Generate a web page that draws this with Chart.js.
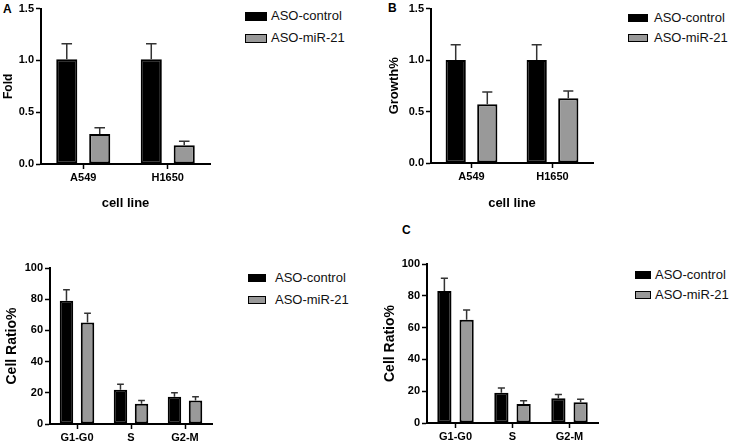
<!DOCTYPE html>
<html>
<head>
<meta charset="utf-8">
<script src="https://cdn.jsdelivr.net/npm/chart.js@4"></script>
<style>
  body { margin: 0; background: #fff; width: 738px; height: 445px; position: relative; overflow: hidden;
         font-family: Arial, "Liberation Sans", Helvetica, sans-serif; }
  canvas { position: absolute; }
  .tag { position: absolute; font-weight: bold; font-size: 12px; color: #000; }
  .key { position: absolute; font-size: 13px; color: #111; line-height: 14px; white-space: nowrap; }
  .key span { position: absolute; top: 3px; border: 1.5px solid #000; box-sizing: border-box; }
</style>
</head>
<body>
<div class="tag" style="left:3px;top:2px">A</div>
<div class="tag" style="left:388px;top:1px">B</div>
<div class="tag" style="left:402px;top:223px">C</div>

<canvas id="chartA" width="215" height="215" style="left:0;top:0"></canvas>
<canvas id="chartB" width="230" height="215" style="left:370px;top:0"></canvas>
<canvas id="chartC1" width="220" height="220" style="left:0;top:225px"></canvas>
<canvas id="chartC2" width="235" height="220" style="left:370px;top:225px"></canvas>

<!-- легенды -->
<div class="key" style="left:245px;top:9px"><span style="left:0;width:22px;height:9px;background:#000"></span><b style="font-weight:normal;margin-left:26px">ASO-control</b></div>
<div class="key" style="left:245px;top:31px"><span style="left:0;width:22px;height:9px;background:#999"></span><b style="font-weight:normal;margin-left:26px">ASO-miR-21</b></div>
<div class="key" style="left:628px;top:11px"><span style="left:0;width:20px;height:8px;background:#000"></span><b style="font-weight:normal;margin-left:26px">ASO-control</b></div>
<div class="key" style="left:628px;top:31px"><span style="left:0;width:20px;height:8px;background:#999"></span><b style="font-weight:normal;margin-left:26px">ASO-miR-21</b></div>
<div class="key" style="left:248px;top:271px"><span style="left:0;width:18px;height:8px;background:#000"></span><b style="font-weight:normal;margin-left:27px">ASO-control</b></div>
<div class="key" style="left:248px;top:293px"><span style="left:0;width:18px;height:8px;background:#999"></span><b style="font-weight:normal;margin-left:27px">ASO-miR-21</b></div>
<div class="key" style="left:635px;top:268px"><span style="left:0;width:16px;height:8px;background:#000"></span><b style="font-weight:normal;margin-left:20px">ASO-control</b></div>
<div class="key" style="left:635px;top:288px"><span style="left:0;width:16px;height:8px;background:#999"></span><b style="font-weight:normal;margin-left:20px">ASO-miR-21</b></div>

<script>
// Данные
var cellLines = ['A549', 'H1650'];
var phases = ['G1-G0', 'S', 'G2-M'];

var foldControl = [1.01, 1.01];
var foldControlErr = [0.15, 0.15];
var foldMiR = [0.29, 0.18];
var foldMiRErr = [0.06, 0.04];

var growthControl = [1.00, 1.00];
var growthControlErr = [0.15, 0.15];
var growthMiR = [0.57, 0.63];
var growthMiRErr = [0.12, 0.07];

var ratioControl1 = [79, 22, 17.5];
var ratioControlErr1 = [7, 3.5, 2.5];
var ratioMiR1 = [65, 13, 15];
var ratioMiRErr1 = [6, 2, 2.5];

var ratioControl2 = [83, 19, 15.5];
var ratioControlErr2 = [8, 3, 2.5];
var ratioMiR2 = [65, 12, 13];
var ratioMiRErr2 = [6, 2, 2];

var FONT = 'Arial, "Liberation Sans", Helvetica, sans-serif';

// Планки погрешностей (только вверх)
var errorBars = {
    id: 'errorBars',
    afterDatasetsDraw: function (chart) {
        var ctx = chart.ctx;
        var y = chart.scales.y;
        chart.data.datasets.forEach(function (ds, i) {
            chart.getDatasetMeta(i).data.forEach(function (bar, j) {
                var top = y.getPixelForValue(ds.data[j] + ds.errors[j]);
                var half = bar.width / 4;
                ctx.save();
                ctx.strokeStyle = '#333';
                ctx.lineWidth = 1.5;
                ctx.beginPath();
                ctx.moveTo(bar.x, bar.y);
                ctx.lineTo(bar.x, top);
                ctx.moveTo(bar.x - half, top);
                ctx.lineTo(bar.x + half, top);
                ctx.stroke();
                ctx.restore();
            });
        });
    }
};

function makeChart(id, labels, ctrl, ctrlErr, mir, mirErr, cfg) {
    var ctx = document.getElementById(id).getContext('2d');
    return new Chart(ctx, {
        type: 'bar',
        data: {
            labels: labels,
            datasets: [{
                label: 'ASO-control',
                data: ctrl,
                errors: ctrlErr,
                backgroundColor: '#000',
                borderColor: '#000',
                borderWidth: 2,
                borderSkipped: false
            }, {
                label: 'ASO-miR-21',
                data: mir,
                errors: mirErr,
                backgroundColor: '#999',
                borderColor: '#000',
                borderWidth: 2,
                borderSkipped: false
            }]
        },
        options: {
            responsive: false,
            animation: false,
            categoryPercentage: 0.78,
            barPercentage: 0.64,
            layout: { padding: cfg.padding },
            plugins: { legend: { display: false }, tooltip: { enabled: false } },
            scales: {
                x: {
                    afterFit: function (s) { s.height = cfg.xHeight; },
                    grid: { drawOnChartArea: false, offset: false, tickLength: 5, tickColor: '#000', tickWidth: 1.5 },
                    border: { color: '#000', width: 2 },
                    ticks: { color: '#000', padding: 2, font: { family: FONT, size: 11, weight: 'bold' } },
                    title: {
                        display: !!cfg.xTitle,
                        text: cfg.xTitle || '',
                        color: '#000',
                        padding: { top: 0, bottom: 4 },
                        font: { family: FONT, size: 13, weight: 'bold' }
                    }
                },
                y: {
                    min: 0,
                    max: cfg.max,
                    afterFit: function (s) { s.width = cfg.yWidth; },
                    grid: { drawOnChartArea: false, tickLength: 5, tickColor: '#000', tickWidth: 1.5 },
                    border: { color: '#000', width: 2 },
                    ticks: {
                        stepSize: cfg.step,
                        color: '#000',
                        padding: 2,
                        font: { family: FONT, size: 11, weight: 'bold' },
                        callback: function (v) { return cfg.step < 1 ? v.toFixed(1) : v; }
                    },
                    title: {
                        display: true,
                        text: cfg.yTitle,
                        color: '#000',
                        padding: { top: cfg.yTitlePad, bottom: 0 },
                        font: { family: FONT, size: cfg.yTitleSize, weight: 'bold' }
                    }
                }
            }
        },
        plugins: [errorBars]
    });
}

makeChart('chartA', cellLines, foldControl, foldControlErr, foldMiR, foldMiRErr, {
    padding: { left: 0, top: 6, right: 5, bottom: 0 },
    xHeight: 51, yWidth: 41, max: 1.5, step: 0.5,
    xTitle: 'cell line', yTitle: 'Fold', yTitleSize: 12, yTitlePad: 1
});

makeChart('chartB', cellLines, growthControl, growthControlErr, growthMiR, growthMiRErr, {
    padding: { left: 0, top: 7, right: 7, bottom: 0 },
    xHeight: 52, yWidth: 61, max: 1.5, step: 0.5,
    xTitle: 'cell line', yTitle: 'Growth%', yTitleSize: 13, yTitlePad: 17
});

makeChart('chartC1', phases, ratioControl1, ratioControlErr1, ratioMiR1, ratioMiRErr1, {
    padding: { left: 0, top: 43, right: 8, bottom: 0 },
    xHeight: 21, yWidth: 50, max: 100, step: 20,
    yTitle: 'Cell Ratio%', yTitleSize: 14, yTitlePad: 4
});

makeChart('chartC2', phases, ratioControl2, ratioControlErr2, ratioMiR2, ratioMiRErr2, {
    padding: { left: 0, top: 39, right: 7, bottom: 0 },
    xHeight: 22, yWidth: 57, max: 100, step: 20,
    yTitle: 'Cell Ratio%', yTitleSize: 14, yTitlePad: 12
});
</script>
</body>
</html>
